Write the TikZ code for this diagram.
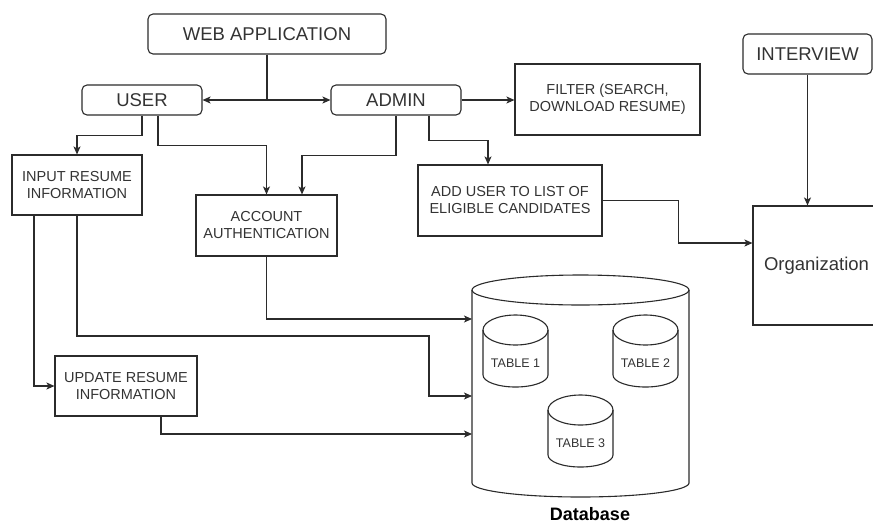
\documentclass[tikz,border=0pt]{standalone}
\usepackage{fontspec}
\setmainfont{Liberation Sans}
\usetikzlibrary{arrows.meta}

\definecolor{ln}{HTML}{2B2B2B}
\definecolor{tx}{HTML}{333333}

\tikzset{
	big/.style={font=\fontsize{18.5}{22}\selectfont},
	small/.style={font=\fontsize{14.5}{17}\selectfont},
	rbox/.style={draw=ln, line width=1.1pt, rounded corners=5pt, text=tx, inner sep=0pt, align=center},
	sqbox/.style={draw=ln, line width=1.1pt, text=tx, inner sep=0pt, align=center},
	arr/.style={draw=ln, line width=1.1pt, -{Stealth[length=8pt,width=7pt,inset=2pt]}}
}

\begin{document}
\begin{tikzpicture}[x=1pt,y=-1pt]
	\useasboundingbox (0,0) rectangle (873,523);

	% top row
	\node[rbox,big,minimum width=238,minimum height=40] (web) at (267,34) {WEB APPLICATION};
	\node[rbox,big,minimum width=120,minimum height=30] (user) at (142,100) {USER};
	\node[rbox,big,minimum width=130,minimum height=30] (admin) at (396,100) {ADMIN};
	\node[sqbox,small,minimum width=185,minimum height=71] (filter) at (607.5,99.5) {FILTER (SEARCH,\\DOWNLOAD RESUME)};
	\node[rbox,big,minimum width=129,minimum height=40] (interview) at (807.5,54) {INTERVIEW};

	% middle boxes
	\node[sqbox,small,minimum width=130,minimum height=60] (input) at (77,185) {INPUT RESUME\\INFORMATION};
	\node[sqbox,small,minimum width=141,minimum height=61] (acc) at (266.5,225.5) {ACCOUNT\\AUTHENTICATION};
	\node[sqbox,small,minimum width=184,minimum height=71] (adduser) at (510,200.5) {ADD USER TO LIST OF\\ELIGIBLE CANDIDATES};
	\node[sqbox,big,minimum width=127,minimum height=119] (org) at (816.5,265.5) {Organization};
	\node[sqbox,small,minimum width=142,minimum height=60] (update) at (126,386) {UPDATE RESUME\\INFORMATION};

	% database
	\draw[ln, line width=1.1pt] (580.5,290) ellipse [x radius=108.5pt, y radius=15pt];
	\draw[ln, line width=1.1pt] (472,290) -- (472,483) arc[start angle=180, end angle=360, x radius=108.5pt, y radius=14pt] -- (689,290);
	\foreach \i/\x/\y in {1/515.5/330, 2/645.5/330, 3/580.5/410} {
		\draw[ln, line width=1.1pt] (\x,\y) ellipse [x radius=32.5pt, y radius=15pt];
		\draw[ln, line width=1.1pt] (\x-32.5,\y) -- (\x-32.5,\y+45) arc[start angle=180, end angle=360, x radius=32.5pt, y radius=12pt] -- (\x+32.5,\y);
		\node[text=tx, font=\fontsize{12.5}{15}\selectfont] (t\i) at (\x,\y+33) {TABLE \i};
	}
	\node[font=\fontsize{18}{21}\selectfont\bfseries] (dblabel) at (590,514) {Database};
	\coordinate (dbin1) at (472,319);
	\coordinate (dbin2) at (472,396);
	\coordinate (dbin3) at (472,434);
	\coordinate (bend) at (429,336);

	% connectors
	\draw[arr] (web.south) |- (user.east);
	\draw[arr] (web.south) |- (admin.west);
	\draw[arr] (admin.east) -- (admin.east -| filter.west);
	\draw[arr] (user.south) -- ++(0,20) -| (input.north);
	\draw[arr] ([xshift=16pt]user.south) -- ++(0,30) -| (acc.north);
	\draw[arr] (admin.south) -- ++(0,40) -| ([xshift=35.5pt]acc.north);
	\draw[arr] ([xshift=33pt]admin.south) -- ++(0,25) -| ([xshift=-22pt]adduser.north);
	\draw[arr] (adduser.east) -- ++(76,0) |- ([yshift=22.5pt]org.west);
	\draw[arr] (interview.south) -- (interview.south |- org.north);
	\draw[arr] (acc.south) |- (dbin1);
	\draw[arr] ([xshift=-43pt]input.south) |- (update.west);
	\draw[arr] (input.south) |- (bend) |- (dbin2);
	\draw[arr] ([xshift=35pt]update.south) |- (dbin3);
\end{tikzpicture}
\end{document}
